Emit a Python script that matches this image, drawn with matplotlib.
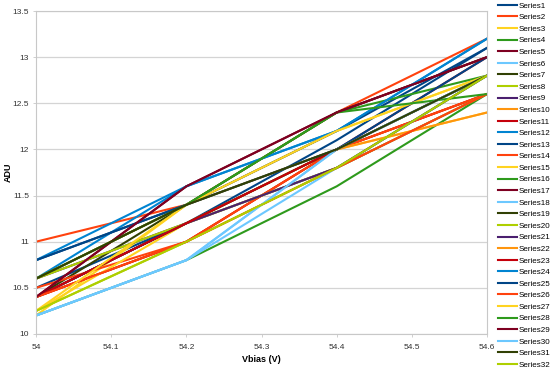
import matplotlib
matplotlib.use("Agg")
import matplotlib.pyplot as plt

plt.rcParams["font.family"] = ["Liberation Sans", "DejaVu Sans"]

vbias = [54.0, 54.2, 54.4, 54.6]

series = [
    [10.5, 11.2, 12.1, 13.1],
    [11.0, 11.4, 12.4, 13.2],
    [10.2, 11.4, 12.2, 12.8],
    [10.2, 10.8, 11.6, 12.6],
    [10.4, 11.2, 12.0, 12.8],
    [10.2, 10.8, 12.0, 12.8],
    [10.4, 11.4, 12.4, 13.0],
    [10.25, 11.0, 11.8, 12.8],
    [10.6, 11.2, 11.8, 12.6],
    [10.4, 11.0, 12.0, 12.6],
    [10.4, 11.0, 12.0, 12.6],
    [10.6, 11.6, 12.2, 13.2],
    [10.8, 11.4, 12.2, 13.1],
    [10.5, 11.0, 12.0, 12.6],
    [10.25, 11.2, 12.0, 12.4],
    [10.6, 11.4, 12.4, 12.8],
    [10.4, 11.6, 12.4, 13.0],
    [10.2, 10.8, 11.8, 12.8],
    [10.4, 11.2, 12.0, 12.8],
    [10.6, 11.2, 11.8, 12.6],
    [10.4, 11.2, 11.8, 12.8],
    [10.6, 11.4, 12.0, 12.4],
    [10.4, 11.2, 12.0, 13.0],
    [10.8, 11.6, 12.2, 13.2],
    [10.8, 11.4, 12.0, 13.0],
    [10.4, 11.0, 11.8, 12.6],
    [10.25, 11.4, 12.2, 12.8],
    [10.6, 11.4, 12.4, 12.6],
    [10.4, 11.6, 12.4, 13.0],
    [10.2, 10.8, 12.0, 12.8],
    [10.6, 11.4, 12.0, 12.8],
    [10.25, 11.0, 11.8, 12.8],
]
labels = ["Series%d" % (i + 1) for i in range(len(series))]

palette = ["#004586", "#ff420e", "#ffd320", "#2e9a1c", "#7e0021", "#6cc8ff",
           "#314004", "#aecf00", "#4b1f6f", "#ff950e", "#c5000b", "#0084d1"]

fig = plt.figure(figsize=(5.5, 3.68), dpi=100)
ax = fig.add_axes([36 / 550, 1 - 334 / 368, (487 - 36) / 550, (334 - 11) / 368])

for i, vals in enumerate(series):
    ax.plot(vbias, vals, color=palette[i % len(palette)], lw=1.5, label=labels[i])

ax.set_xlim(54.0, 54.6)
ax.set_ylim(10, 13.5)
ax.set_xticks([54, 54.1, 54.2, 54.3, 54.4, 54.5, 54.6])
ax.set_xticklabels(["54", "54.1", "54.2", "54.3", "54.4", "54.5", "54.6"])
ax.set_yticks([10, 10.5, 11, 11.5, 12, 12.5, 13, 13.5])
ax.set_yticklabels(["10", "10.5", "11", "11.5", "12", "12.5", "13", "13.5"])
ax.yaxis.grid(True, color="#d4d4d4", lw=0.9)
ax.set_axisbelow(True)
for s in ax.spines.values():
    s.set_color("#c8c8c8")
ax.tick_params(labelsize=6, colors="#333333", length=2, width=0.6, color="#c8c8c8")
ax.tick_params(axis="y", pad=3)
ax.tick_params(axis="x", pad=5)
ax.set_xlabel("Vbias (V)", fontsize=6.5, fontweight="bold", labelpad=3)
ax.set_ylabel("ADU", fontsize=6.5, fontweight="bold")
ax.yaxis.set_label_coords(-0.052, 0.5)

fig.legend(loc="upper left", bbox_to_anchor=(498 / 550, 1 - 2 / 368), frameon=False,
           fontsize=5.8, handlelength=2.3, handletextpad=0.3, labelspacing=0.49,
           borderaxespad=0, borderpad=0)

fig.savefig("out.png", dpi=100)
